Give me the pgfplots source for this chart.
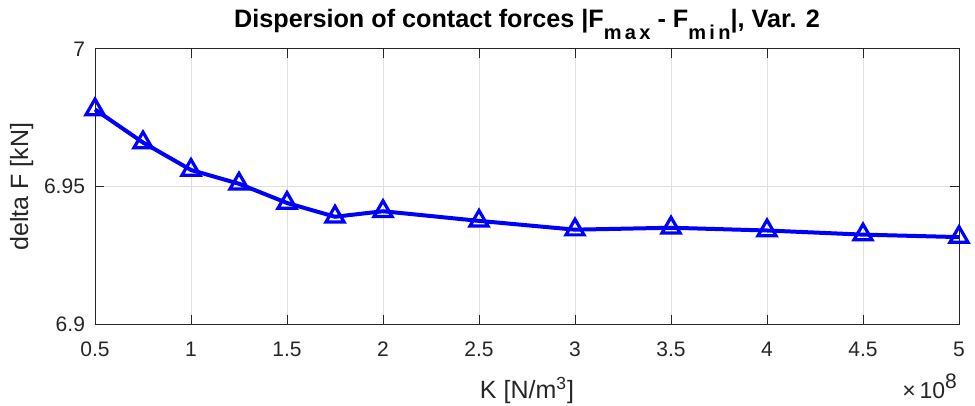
\documentclass[border=0pt]{standalone}
\usepackage{fontspec}
\setmainfont{Liberation Sans}
\usepackage{pgfplots}
\pgfplotsset{compat=1.18}
\definecolor{axgray}{RGB}{38,38,38}
\definecolor{gridgray}{RGB}{223,223,223}
\begin{document}
\begin{tikzpicture}
\begin{axis}[
  scale only axis, width=432pt, height=137.5pt,
  xmin=0.5, xmax=5, ymin=6.9, ymax=7,
  xtick={0.5,1,1.5,2,2.5,3,3.5,4,4.5,5},
  xticklabels={0.5,1,1.5,2,2.5,3,3.5,4,4.5,5},
  ytick={6.9,6.95,7},
  yticklabels={6.9,6.95,7},
  grid=major,
  major grid style={gridgray, line width=0.5pt},
  axis line style={axgray, line width=0.5pt},
  tick style={axgray, line width=0.5pt},
  major tick length=4.5pt,
  tick align=inside,
  ticklabel style={font=\fontsize{10.5}{12}\selectfont, text=axgray},
  xticklabel style={yshift=-5.3pt},
  yticklabel style={xshift=-1.5pt},
  xlabel={K [N/m\textsuperscript{3}]},
  xlabel style={at={(axis description cs:0.5,-0.2691)}, anchor=base, font=\fontsize{12.5}{14}\selectfont, text=axgray},
  ylabel={delta F [kN]},
  ylabel style={at={(axis description cs:-0.0775,0.5)}, anchor=base, rotate=0, font=\fontsize{12.5}{14}\selectfont, text=axgray},
  title={Dispersion of contact forces |F\raisebox{-5.5pt}{\fontsize{10}{11}\selectfont m\,a\,x} - F\raisebox{-5.5pt}{\fontsize{10}{11}\selectfont m\,i\,n}|, Var. 2},
  title style={at={(axis description cs:0.5,1.0327)}, anchor=base, font=\bfseries\fontsize{12.6}{14}\selectfont},
  clip=false,
]
\addplot[color={rgb,255:red,0;green,0;blue,255}, line width=2pt, mark=triangle, mark size=5.2pt, mark options={line width=1.6pt, fill=none}]
coordinates {
(0.5,6.978) (0.75,6.966) (1,6.956) (1.25,6.951) (1.5,6.944) (1.75,6.939) (2,6.941)
(2.5,6.9375) (3,6.9343) (3.5,6.935) (4,6.934) (4.5,6.9325) (5,6.9316)
};
\node[anchor=base east, inner sep=0pt, text=axgray, font=\fontsize{11.5}{13}\selectfont] at (axis description cs:0.998,-0.2691) {×\,10\raisebox{5pt}{\fontsize{10.5}{12}\selectfont 8}};
\end{axis}
\pgfresetboundingbox
\path ([shift={(-47.5pt,-40.5pt)}]current axis.south west) rectangle ([shift={(8pt,24.5pt)}]current axis.north east);
\end{tikzpicture}
\end{document}
